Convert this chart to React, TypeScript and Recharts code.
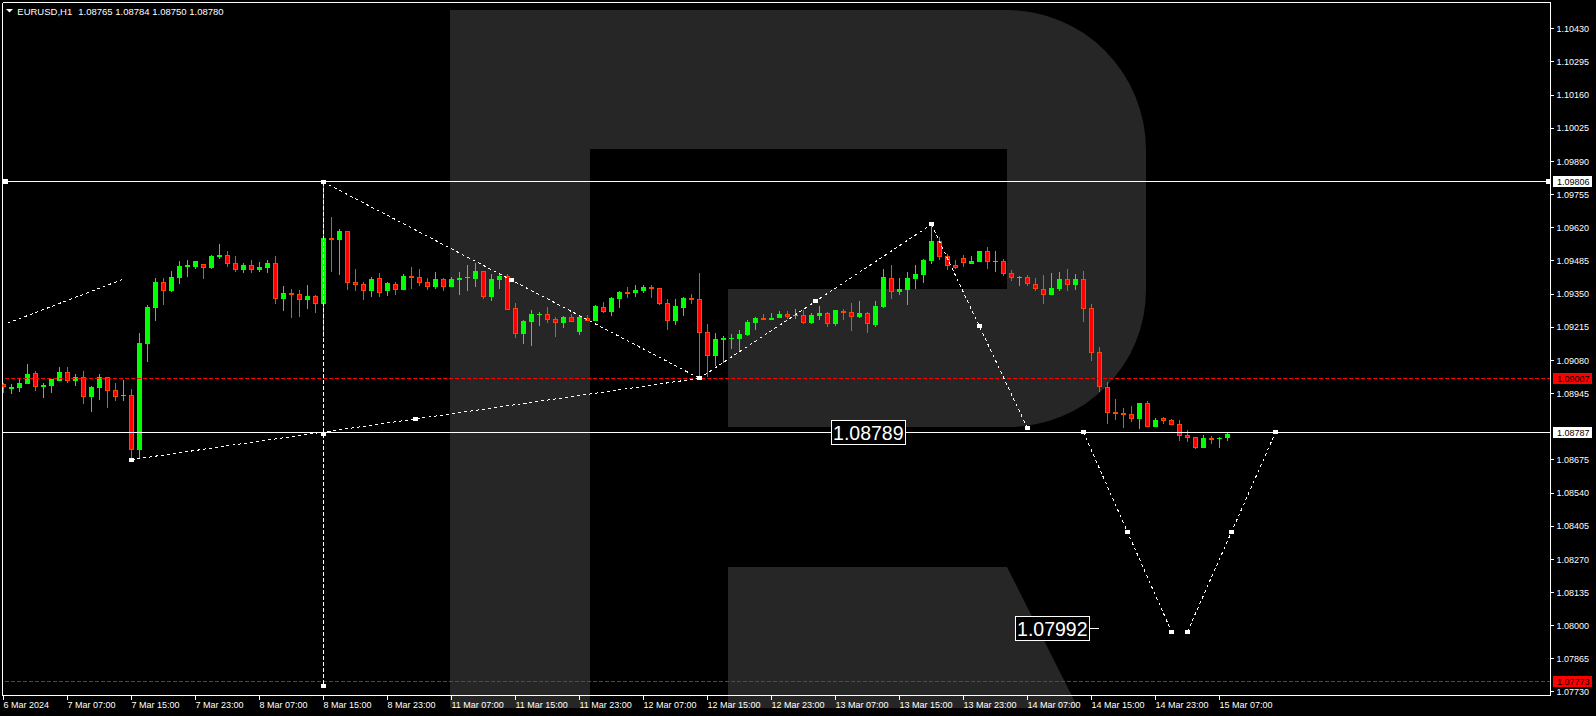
import React from "react";
import { ComposedChart, Bar, XAxis, YAxis, ReferenceLine, ReferenceDot } from "recharts";

const WIDTH = 1596;
const HEIGHT = 716;
const FONT = '"Liberation Sans", Arial, sans-serif';

const BULL = "#00ff00";
const BEAR = "#ff0000";
const BEAR_EDGE = "#ff4500";
const LOGO = "#262626";

// EURUSD H1, first bar = 6 Mar 2024 23:00
const opens = [
  1.08984, 1.08965, 1.08969, 1.08985, 1.09028, 1.08972, 1.08977, 1.08997, 1.09033, 1.08997,
  1.09012, 1.08932, 1.08969, 1.09012, 1.08959, 1.08936, 1.08939, 1.08717, 1.09148, 1.09295,
  1.09399, 1.09362, 1.09416, 1.09461, 1.09461, 1.09472, 1.09457, 1.09502, 1.09509, 1.09476,
  1.09449, 1.09468, 1.09449, 1.09457, 1.09476, 1.09331, 1.09354, 1.0935, 1.09327, 1.09342,
  1.09311, 1.09578, 1.09571, 1.09607, 1.09399, 1.09391, 1.09364, 1.09415, 1.09364, 1.09391,
  1.09366, 1.09423, 1.09419, 1.09399, 1.09379, 1.09411, 1.09379, 1.09409, 1.09415, 1.09411,
  1.09444, 1.09338, 1.09407, 1.09423, 1.09293, 1.09187, 1.09236, 1.09265, 1.09269, 1.09248,
  1.09232, 1.09257, 1.09196, 1.09252, 1.0924, 1.09297, 1.09277, 1.0933, 1.09358, 1.09354,
  1.09362, 1.09379, 1.09375, 1.09314, 1.0924, 1.09293, 1.09334, 1.0933, 1.09196, 1.09099,
  1.09164, 1.09167, 1.09167, 1.09183, 1.09232, 1.09252, 1.09244, 1.09252, 1.09269, 1.09261,
  1.09265, 1.09232, 1.09261, 1.09273, 1.09228, 1.09281, 1.09277, 1.09257, 1.09273, 1.09224,
  1.09297, 1.09415, 1.09358, 1.09366, 1.09411, 1.09428, 1.09484, 1.09566, 1.09505, 1.09468,
  1.09497, 1.09472, 1.0948, 1.09525, 1.09482, 1.09484, 1.09436, 1.09415, 1.09419, 1.09391,
  1.0937, 1.09346, 1.0937, 1.09411, 1.09387, 1.09411, 1.09293, 1.09114, 1.08972, 1.0887,
  1.08866, 1.08862, 1.08841, 1.08907, 1.08809, 1.08845, 1.08837, 1.08821, 1.08776, 1.08768,
  1.08723, 1.08764, 1.0876, 1.08765,
];

const highs = [
  1.08987, 1.08984, 1.09007, 1.09065, 1.09037, 1.08987, 1.09004, 1.09053, 1.09053, 1.09024,
  1.09037, 1.08976, 1.09024, 1.09012, 1.08988, 1.09, 1.08963, 1.09191, 1.09305, 1.09415,
  1.09415, 1.09444, 1.09484, 1.09489, 1.09484, 1.09472, 1.09509, 1.09554, 1.09525, 1.09505,
  1.09476, 1.09489, 1.0948, 1.09489, 1.09505, 1.09383, 1.0937, 1.09366, 1.09387, 1.09346,
  1.09806, 1.09664, 1.09615, 1.09607, 1.09452, 1.09399, 1.09419, 1.09436, 1.09399, 1.09399,
  1.0943, 1.0946, 1.09452, 1.09415, 1.0944, 1.09415, 1.09419, 1.0944, 1.09468, 1.09476,
  1.09444, 1.09432, 1.09436, 1.09432, 1.09314, 1.09244, 1.09285, 1.09277, 1.09297, 1.09257,
  1.09261, 1.09269, 1.09261, 1.09265, 1.09305, 1.09318, 1.09338, 1.09362, 1.09379, 1.09387,
  1.09387, 1.09387, 1.09375, 1.0933, 1.0933, 1.09338, 1.0935, 1.09436, 1.09228, 1.09191,
  1.09179, 1.09187, 1.09204, 1.09244, 1.09257, 1.09269, 1.09273, 1.09281, 1.09281, 1.09289,
  1.09285, 1.09273, 1.09301, 1.09277, 1.09285, 1.09289, 1.09314, 1.09322, 1.09277, 1.09322,
  1.09452, 1.09468, 1.09415, 1.0944, 1.09468, 1.09493, 1.09633, 1.09582, 1.09513, 1.09489,
  1.09509, 1.09505, 1.09525, 1.09541, 1.09525, 1.09493, 1.09448, 1.09423, 1.09428, 1.09415,
  1.09428, 1.09436, 1.0944, 1.09452, 1.09432, 1.09444, 1.09309, 1.09134, 1.08992, 1.08923,
  1.08886, 1.08894, 1.08907, 1.08915, 1.08845, 1.08849, 1.08841, 1.08837, 1.08797, 1.08768,
  1.08776, 1.08772, 1.08768, 1.08784,
];

const lows = [
  1.08948, 1.08943, 1.08952, 1.08985, 1.08956, 1.08927, 1.08947, 1.08997, 1.08989, 1.08976,
  1.08904, 1.08871, 1.0892, 1.08887, 1.08916, 1.08916, 1.08676, 1.08684, 1.09075, 1.09241,
  1.09307, 1.0936, 1.09392, 1.09421, 1.09453, 1.09412, 1.09453, 1.09494, 1.09461, 1.09441,
  1.09437, 1.09437, 1.09441, 1.09437, 1.09311, 1.09282, 1.09254, 1.09258, 1.0929, 1.09274,
  1.09176, 1.09441, 1.09428, 1.09368, 1.09364, 1.09327, 1.09339, 1.09339, 1.09343, 1.09347,
  1.09366, 1.0937, 1.09384, 1.09366, 1.0937, 1.09364, 1.09379, 1.09346, 1.09362, 1.09379,
  1.0933, 1.09322, 1.0937, 1.09285, 1.09171, 1.09147, 1.09139, 1.0922, 1.09232, 1.09175,
  1.09212, 1.09236, 1.09183, 1.0924, 1.0924, 1.09273, 1.09261, 1.09293, 1.09334, 1.09338,
  1.09354, 1.09334, 1.09305, 1.09204, 1.09224, 1.09261, 1.0931, 1.09007, 1.09014, 1.09057,
  1.09068, 1.09126, 1.09118, 1.09179, 1.09204, 1.09244, 1.09244, 1.09252, 1.09248, 1.09248,
  1.09228, 1.09228, 1.09244, 1.09216, 1.0922, 1.09244, 1.092, 1.09252, 1.09191, 1.09216,
  1.09293, 1.0933, 1.09346, 1.09305, 1.0937, 1.09395, 1.09472, 1.09489, 1.09448, 1.09452,
  1.0946, 1.09472, 1.0948, 1.09452, 1.0944, 1.09423, 1.09403, 1.09383, 1.09383, 1.09362,
  1.0931, 1.09346, 1.09362, 1.09362, 1.09366, 1.09236, 1.09077, 1.08951, 1.08821, 1.08837,
  1.08805, 1.08829, 1.08801, 1.08809, 1.08809, 1.08821, 1.08817, 1.08752, 1.08748, 1.08719,
  1.08723, 1.0874, 1.08723, 1.0875,
];

const closes = [
  1.08973, 1.08972, 1.08988, 1.09024, 1.08973, 1.0898, 1.09004, 1.09033, 1.08997, 1.09012,
  1.08932, 1.08972, 1.09012, 1.08957, 1.08932, 1.08939, 1.08717, 1.09151, 1.09298, 1.09399,
  1.09364, 1.09419, 1.09464, 1.09468, 1.09484, 1.09457, 1.09505, 1.09509, 1.09473, 1.09449,
  1.09468, 1.09449, 1.0946, 1.09476, 1.09331, 1.09354, 1.09347, 1.09327, 1.09342, 1.09311,
  1.09578, 1.09571, 1.09607, 1.09396, 1.09388, 1.09364, 1.09411, 1.09355, 1.09395, 1.09368,
  1.09423, 1.09416, 1.09396, 1.09379, 1.09411, 1.09379, 1.09411, 1.09415, 1.09419, 1.09444,
  1.09338, 1.09411, 1.09423, 1.09285, 1.09187, 1.0924, 1.09269, 1.09269, 1.09244, 1.09232,
  1.09257, 1.09236, 1.09257, 1.0924, 1.09301, 1.09277, 1.09334, 1.09358, 1.09354, 1.09366,
  1.09379, 1.0937, 1.0931, 1.0924, 1.09301, 1.09334, 1.09326, 1.09191, 1.09098, 1.09167,
  1.09171, 1.09171, 1.09187, 1.09236, 1.09252, 1.09244, 1.09252, 1.09269, 1.09257, 1.09265,
  1.09232, 1.09265, 1.09273, 1.09228, 1.09285, 1.09273, 1.09257, 1.09273, 1.09228, 1.09301,
  1.09419, 1.09358, 1.0937, 1.09415, 1.09432, 1.09489, 1.09566, 1.09501, 1.09464, 1.09457,
  1.09476, 1.09484, 1.09525, 1.0948, 1.09484, 1.09432, 1.09415, 1.09419, 1.09391, 1.0937,
  1.09346, 1.09375, 1.09411, 1.09387, 1.09411, 1.09289, 1.0911, 1.08972, 1.08866, 1.08862,
  1.08858, 1.08841, 1.08907, 1.08809, 1.08837, 1.08833, 1.08817, 1.08772, 1.08764, 1.08723,
  1.08764, 1.08756, 1.08764, 1.0878,
];

// one label every 8 bars
const timeLabels = [
  "6 Mar 2024", "7 Mar 07:00", "7 Mar 15:00", "7 Mar 23:00", "8 Mar 07:00", "8 Mar 15:00",
  "8 Mar 23:00", "11 Mar 07:00", "11 Mar 15:00", "11 Mar 23:00", "12 Mar 07:00", "12 Mar 15:00",
  "12 Mar 23:00", "13 Mar 07:00", "13 Mar 15:00", "13 Mar 23:00", "14 Mar 07:00", "14 Mar 15:00",
  "14 Mar 23:00", "15 Mar 07:00",
];
const timeTicks = timeLabels.map((_, k) => k * 8);

const priceTicks = [
  1.0773, 1.07865, 1.08, 1.08135, 1.0827, 1.08405, 1.0854, 1.08675, 1.08945, 1.0908,
  1.09215, 1.0935, 1.09485, 1.0962, 1.09755, 1.0989, 1.10025, 1.1016, 1.10295, 1.1043,
];

const solidLevels = [1.09806, 1.08787];
const dashedLevels = [1.09007, 1.07773];
const axisMarks = [
  { price: 1.09806, bg: "#ffffff" },
  { price: 1.09007, bg: "#ff0000" },
  { price: 1.08787, bg: "#ffffff" },
  { price: 1.07773, bg: "#ff0000" },
];

// drawn trend / forecast lines: [bar, price] -> [bar, price]
const trendSegments = [
  [[0.5, 1.09231], [15, 1.09411]],
  [[16, 1.08676], [87, 1.09007]],
  [[40, 1.09806], [87, 1.09007]],
  [[40, 1.09806], [40, 1.07756]],
  [[87, 1.09007], [116, 1.09633]],
  [[116, 1.09633], [128, 1.08803]],
  [[135, 1.08787], [146, 1.07976]],
  [[148, 1.07976], [159, 1.08787]],
];
const trendMarks = [
  [16, 1.08676], [51.5, 1.08842], [87, 1.09007], [40, 1.09806], [63.5, 1.09407],
  [40, 1.08781], [40, 1.07756], [101.5, 1.0932], [116, 1.09633], [122, 1.09218],
  [128, 1.08803], [135, 1.08787], [140.5, 1.08381], [146, 1.07976], [148, 1.07976],
  [153.5, 1.08381], [159, 1.08787],
];
const textNotes = [
  { bar: 103.475, price: 1.08789, tail: false },
  { bar: 126.475, price: 1.07992, tail: true },
];

const X_DOMAIN = [-0.125, 193.375];
const Y_DOMAIN = [1.0771575, 1.1053665];

const chartData = opens.map((o, i) => ({
  i,
  open: o,
  high: highs[i],
  low: lows[i],
  close: closes[i],
  range: [lows[i], highs[i]],
}));

const fmt = (v: number) => v.toFixed(5);

function Candle(props: any) {
  const { x, y, width, height, payload } = props;
  if (!payload || height == null || isNaN(y)) return null;
  const { open, high, low, close } = payload;
  const k = high > low ? height / (high - low) : 0;
  const py = (v: number) => y + (high - v) * k;
  const cx = Math.floor(x + width / 2) + 0.5;
  const up = close >= open;
  const top = Math.round(py(Math.max(open, close)));
  const bot = Math.round(py(Math.min(open, close)));
  const bodyH = Math.max(bot - top, 1);
  return (
    <g>
      <line
        x1={cx}
        x2={cx}
        y1={Math.round(py(high))}
        y2={Math.round(py(low))}
        stroke={up ? BULL : BEAR_EDGE}
        strokeWidth={1}
      />
      {up ? (
        <rect x={cx - 2.5} y={top} width={5} height={bodyH} fill={BULL} />
      ) : (
        <rect
          x={cx - 2}
          y={top + 0.5}
          width={4}
          height={Math.max(bodyH - 1, 0.5)}
          fill={BEAR}
          stroke={BEAR_EDGE}
          strokeWidth={1}
        />
      )}
    </g>
  );
}

function TimeTick(props: any) {
  const { x, y, payload } = props;
  const label = timeLabels[Math.round(payload.value / 8)];
  return (
    <text x={x} y={y + 7} fill="#fff" fontSize={9} fontFamily={FONT} textAnchor="start">
      {label}
    </text>
  );
}

const TrendMark = (p: any) => <rect x={p.cx - 2.5} y={p.cy - 2} width={5} height={4} fill="#fff" />;

function axisBox(bg: string, text: string) {
  return (p: any) => (
    <g>
      <rect x={p.cx + 2.5} y={p.cy - 5.5} width={39} height={11} fill={bg} />
      <text x={p.cx + 6.5} y={p.cy + 3.5} fontSize={9} fill="#000" fontFamily={FONT}>
        {text}
      </text>
    </g>
  );
}

function noteBox(text: string, tail: boolean) {
  return (p: any) => (
    <g>
      <rect x={p.cx} y={p.cy - 11.5} width={74} height={24} fill="#000" stroke="#fff" strokeWidth={1} />
      <text x={p.cx + 37} y={p.cy + 8} fontSize={19.5} fill="#fff" textAnchor="middle" fontFamily={FONT}>
        {text}
      </text>
      {tail && <line x1={p.cx + 74} x2={p.cx + 84} y1={p.cy + 0.5} y2={p.cy + 0.5} stroke="#fff" />}
    </g>
  );
}

export default function App() {
  const last = opens.length - 1;
  const header = [opens[last], highs[last], lows[last], closes[last]].map(fmt).join(" ");
  return (
    <div
      style={{
        position: "absolute",
        left: 0,
        top: 0,
        width: WIDTH,
        height: HEIGHT,
        background: "#000",
        overflow: "hidden",
        fontFamily: FONT,
      }}
    >
      <style>{`.recharts-surface line, .recharts-surface rect, .recharts-surface path { shape-rendering: crispEdges; }`}</style>
      <svg width={WIDTH} height={HEIGHT} style={{ position: "absolute", left: 0, top: 0 }}>
        <path
          d="M450,10 H1007 A139,140 0 0 1 1146,150 V290 A137,137 0 0 1 1009,427 H728 V289 H1007 V149 H590 V708 H450 Z"
          fill={LOGO}
        />
        <path d="M728,567 H1007 L1078,708 H728 Z" fill={LOGO} />
        <line x1={2.5} y1={2.5} x2={1550.5} y2={2.5} stroke="#fff" shapeRendering="crispEdges" />
        <line x1={2.5} y1={2.5} x2={2.5} y2={695.5} stroke="#fff" shapeRendering="crispEdges" />
        <polygon points="6,9 13,9 9.5,12.5" fill="#fff" />
        <text x={17.3} y={14.5} fontSize={9.5} fill="#fff" fontFamily={FONT}>
          EURUSD,H1
        </text>
        <text x={78.3} y={14.5} fontSize={9.5} fill="#fff" fontFamily={FONT}>
          {header}
        </text>
      </svg>
      <div style={{ position: "absolute", left: 0, top: 0 }}>
        <ComposedChart
          width={WIDTH}
          height={HEIGHT}
          data={chartData}
          margin={{ top: 2.5, right: 0, bottom: 0, left: 2.5 }}
        >
          <XAxis
            dataKey="i"
            type="number"
            domain={X_DOMAIN}
            allowDataOverflow
            ticks={timeTicks}
            interval={0}
            height={20.5}
            tickSize={4}
            tickMargin={1}
            axisLine={{ stroke: "#fff" }}
            tickLine={{ stroke: "#fff" }}
            tick={<TimeTick />}
          />
          <YAxis
            orientation="right"
            type="number"
            domain={Y_DOMAIN}
            allowDataOverflow
            ticks={priceTicks}
            interval={0}
            width={45.5}
            tickSize={3}
            tickMargin={3}
            tickFormatter={fmt}
            axisLine={{ stroke: "#fff" }}
            tickLine={{ stroke: "#fff" }}
            tick={{ fill: "#fff", fontSize: 9, fontFamily: FONT }}
          />
          {dashedLevels.map((p) => (
            <ReferenceLine key={`d${p}`} y={p} stroke="#ff0000" strokeDasharray="4 2" />
          ))}
          {solidLevels.map((p) => (
            <ReferenceLine key={`s${p}`} y={p} stroke="#ffffff" />
          ))}
          <Bar dataKey="range" barSize={5} isAnimationActive={false} shape={(p: any) => <Candle {...p} />} />
          {trendSegments.map((s, k) => (
            <ReferenceLine
              key={`t${k}`}
              segment={[
                { x: s[0][0], y: s[0][1] },
                { x: s[1][0], y: s[1][1] },
              ]}
              stroke="#ffffff"
              strokeDasharray={s[0][0] === s[1][0] ? "4 2" : "3 3"}
              ifOverflow="visible"
            />
          ))}
          {trendMarks.map((m, k) => (
            <ReferenceDot key={`m${k}`} x={m[0]} y={m[1]} ifOverflow="visible" shape={TrendMark} />
          ))}
          <ReferenceDot
            x={X_DOMAIN[0]}
            y={solidLevels[0]}
            ifOverflow="visible"
            shape={(p: any) => <rect x={p.cx} y={p.cy - 2.5} width={5} height={5} fill="#fff" />}
          />
          <ReferenceDot
            x={X_DOMAIN[1]}
            y={solidLevels[0]}
            ifOverflow="visible"
            shape={(p: any) => <rect x={p.cx - 5} y={p.cy - 2.5} width={5} height={5} fill="#fff" />}
          />
          {textNotes.map((n) => (
            <ReferenceDot
              key={`n${n.price}`}
              x={n.bar}
              y={n.price}
              ifOverflow="visible"
              shape={noteBox(fmt(n.price), n.tail)}
            />
          ))}
          {axisMarks.map((a) => (
            <ReferenceDot
              key={`a${a.price}`}
              x={X_DOMAIN[1]}
              y={a.price}
              ifOverflow="visible"
              shape={axisBox(a.bg, fmt(a.price))}
            />
          ))}
        </ComposedChart>
      </div>
    </div>
  );
}
